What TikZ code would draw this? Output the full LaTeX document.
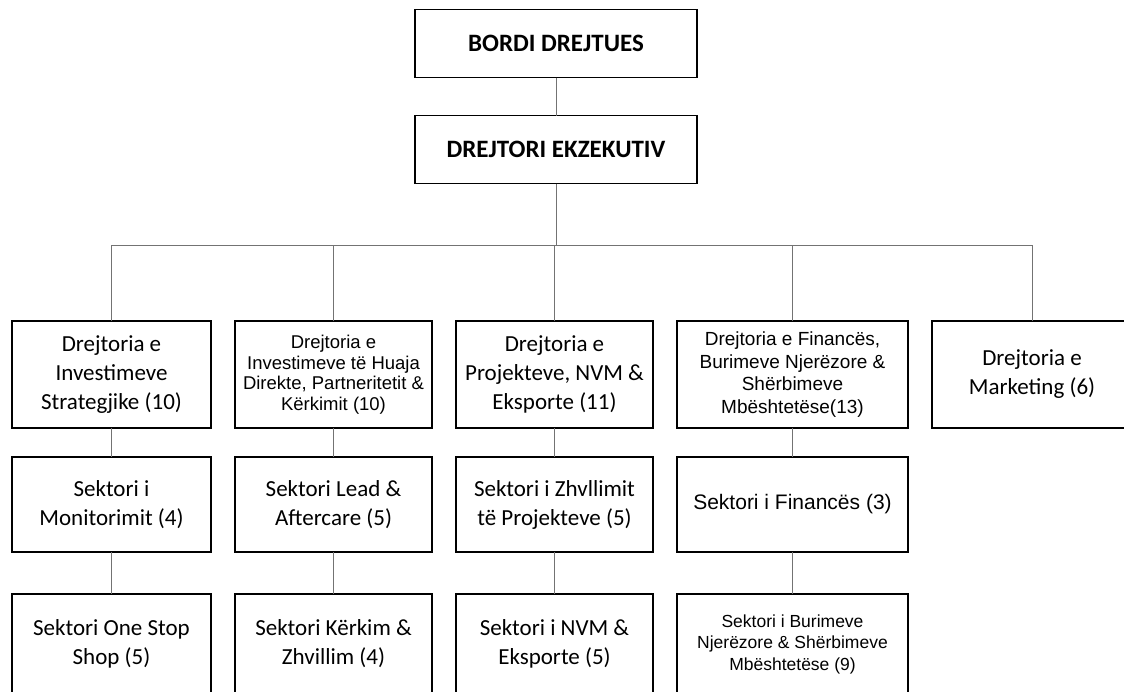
\documentclass[tikz,border=0pt]{standalone}
\usepackage{fontspec}
\setmainfont{Carlito}
\newfontfamily\arialf{Liberation Sans}
\usetikzlibrary{positioning}

\begin{document}
\begin{tikzpicture}[x=1pt, y=-1pt, node distance=24pt,
    box/.style = {draw, line width=1.6pt, align=center, inner sep=1pt, outer sep=0pt},
    kat/.style = {box, font=\bfseries\fontsize{25}{30}\selectfont, minimum width=282pt, minimum height=68pt},
    cal/.style = {font=\fontsize{23}{29}\selectfont},
    ari/.style = {font=\arialf\fontsize{18.5}{20.5}\selectfont},
    link/.style = {draw=black!55, line width=0.7pt}]
    \useasboundingbox (0,0) rectangle (1124,691);
    \clip (0,0) rectangle (1124,691);

    % Kreu
    \node[kat] (bordi) at (556,43.5) {BORDI DREJTUES};
    \node[kat] (ekzek) [below=38pt of bordi] {DREJTORI EKZEKUTIV};
    \coordinate[below=62pt of ekzek] (bus);

    % Drejtorite
    \node[box, cal, minimum width=199pt, minimum height=107pt] (d1) at (111.5,374.5) {Drejtoria e\\Investimeve\\Strategjike (10)};
    \node[box, ari, minimum width=197pt, minimum height=107pt] (d2) [right=of d1] {Drejtoria e\\Investimeve të Huaja\\Direkte, Partneritetit \&\\Kërkimit (10)};
    \node[box, cal, minimum width=197pt, minimum height=107pt] (d3) [right=of d2] {Drejtoria e\\Projekteve, NVM \&\\Eksporte (11)};
    \node[box, ari, font=\arialf\fontsize{19}{22.5}\selectfont, minimum width=231pt, minimum height=107pt] (d4) [right=of d3] {Drejtoria e Financës,\\Burimeve Njerëzore \&\\Shërbimeve\\Mbështetëse(13)};
    \node[box, cal, minimum width=200pt, minimum height=107pt] (d5) [right=of d4] {Drejtoria e\\Marketing (6)};

    % Sektoret
    \node[box, cal, minimum width=199pt, minimum height=95pt] (s1) [below=29pt of d1] {Sektori i\\Monitorimit (4)};
    \node[box, cal, minimum width=197pt, minimum height=95pt] (s2) [below=29pt of d2] {Sektori Lead \&\\Aftercare (5)};
    \node[box, cal, minimum width=197pt, minimum height=95pt] (s3) [below=29pt of d3] {Sektori i Zhvllimit\\të Projekteve (5)};
    \node[box, ari, font=\arialf\fontsize{21}{24}\selectfont, minimum width=231pt, minimum height=95pt] (s4) [below=29pt of d4] {Sektori i Financës (3)};

    \node[box, cal, minimum width=199pt, minimum height=100pt] (k1) [below=42pt of s1] {Sektori One Stop\\Shop (5)};
    \node[box, cal, minimum width=197pt, minimum height=100pt] (k2) [below=42pt of s2] {Sektori Kërkim \&\\Zhvillim (4)};
    \node[box, cal, minimum width=197pt, minimum height=100pt] (k3) [below=42pt of s3] {Sektori i NVM \&\\Eksporte (5)};
    \node[box, ari, font=\arialf\fontsize{17.5}{21.5}\selectfont, minimum width=231pt, minimum height=100pt] (k4) [below=42pt of s4] {Sektori i Burimeve\\Njerëzore \& Shërbimeve\\Mbështetëse (9)};

    % Lidhjet
    \draw[link] (bordi) -- (ekzek);
    \draw[link] (ekzek) -- (bus);
    \draw[link] (d1) |- (bus) -| (d5);
    \foreach \n in {2,3,4}
        \draw[link] (bus -| d\n) -- (d\n);
    \foreach \n in {1,...,4} {
        \draw[link] (d\n) -- (s\n);
        \draw[link] (s\n) -- (k\n);
    }
\end{tikzpicture}
\end{document}
